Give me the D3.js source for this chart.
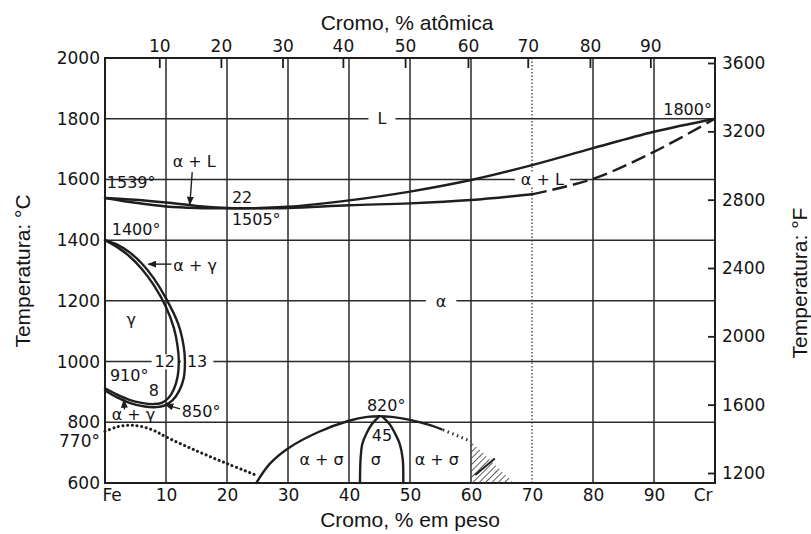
<!DOCTYPE html>
<html>
<head>
<meta charset="utf-8">
<script src="https://cdn.jsdelivr.net/npm/d3@7"></script>
<style>
  body { margin: 0; background: #fff; }
  text { font-family: "DejaVu Sans", sans-serif; fill: #141414; }
  .title { font-family: "Liberation Sans", Arial, sans-serif; font-size: 21px; }
  .tick text { font-size: 17px; }
  .note { font-size: 16px; }
</style>
</head>
<body>
<svg id="chart" width="811" height="534"></svg>
<script>
// Fe–Cr equilibrium diagram (temperature vs. chromium content)

// axis ticks
const weightTicks = [0, 10, 20, 30, 40, 50, 60, 70, 80, 90, 100];
const weightLabels = ["Fe", "10", "20", "30", "40", "50", "60", "70", "80", "90", "Cr"];
const atomicTicks = [10, 20, 30, 40, 50, 60, 70, 80, 90];
// weight-% position of each atomic-% tick
const atomicAsWeight = [8.9, 19.0, 29.1, 39.0, 49.2, 59.5, 69.3, 79.5, 89.4];
const celsiusTicks = [600, 800, 1000, 1200, 1400, 1600, 1800, 2000];
const fahrenheitTicks = [1200, 1600, 2000, 2400, 2800, 3200, 3600];
const gridWeights = [10, 20, 30, 40, 50, 60, 70, 80, 90];
const gridTemps = [800, 1000, 1200, 1400, 1600, 1800];

// phase boundaries: [wt % Cr, °C]
const liquidus = [[0,1539],[5,1533],[10,1524],[15,1513],[20,1506],[22,1505],[30,1510],[40,1531],[50,1560],[60,1598],[70,1647],[80,1703],[90,1757],[100,1800]];
const solidus = [[0,1539],[5,1523],[10,1511],[15,1506],[22,1505],[30,1506],[40,1515],[50,1521],[60,1532],[70,1551]];
const solidusUncertain = [[70,1551],[80,1602],[90,1691],[100,1800]];
const gammaInner = [[0,1400],[2,1377],[4,1347],[6,1306],[8,1252],[10,1180],[11.3,1110],[11.9,1050],[12.1,1000],[11.9,950],[11.3,910],[10.4,880],[9.3,864],[8,860],[6,864],[4,874],[2,891],[0,912]];
const gammaOuter = [[0,1400],[2,1385],[4,1360],[6,1324],[8,1274],[10,1208],[12,1124],[12.9,1050],[13.1,1000],[12.9,945],[12.2,905],[11.1,873],[9.8,856],[8.5,850],[6.5,852],[4,864],[2,882],[0,905]];
const curieLine = [[0,770],[2,785],[4,790],[6,786],[8,773],[10,752],[15,706],[20,664],[25,624]];
const sigmaDome = [[24.8,600],[27,663],[30,714],[35,768],[40,805],[43,818],[45,820],[47,818],[50,808],[53,792],[55.2,777]];
const sigmaDomeTail = [[55.4,775],[57.5,758],[60,737]];
const hatchZone = [[60,737],[63.5,668],[67,600],[60,600]];
const hatchAccent = [[60.7,626],[63.9,681]];
const sigmaLeft = [[41.8,600],[41.9,680],[42.2,730],[42.9,765],[43.8,795],[44.8,816]];
const sigmaRight = [[48.9,600],[48.8,680],[48.3,730],[47.5,765],[46.6,795],[45.6,816]];

const svg = d3.select("#chart");
const x = d3.scaleLinear().domain([0, 100]).range([105, 715]);
const y = d3.scaleLinear().domain([600, 2000]).range([483, 58]);
const yF = d3.scaleLinear().domain([1200, 3600]).range([473, 63]);
const ink = "#1e1e1e";

const curve = d3.line().x(d => x(d[0])).y(d => y(d[1])).curve(d3.curveCatmullRom.alpha(0.5));
const straight = d3.line().x(d => x(d[0])).y(d => y(d[1]));

const defs = svg.append("defs");
defs.append("marker").attr("id", "head").attr("viewBox", "0 0 10 8")
  .attr("refX", 9).attr("refY", 4).attr("markerWidth", 9).attr("markerHeight", 7)
  .attr("markerUnits", "userSpaceOnUse").attr("orient", "auto")
  .append("path").attr("d", "M0,0 L10,4 L0,8 Z").attr("fill", ink);
const pat = defs.append("pattern").attr("id", "hatch").attr("patternUnits", "userSpaceOnUse")
  .attr("width", 4.5).attr("height", 4.5).attr("patternTransform", "rotate(45)");
pat.append("line").attr("x1", 0).attr("y1", 0).attr("x2", 0).attr("y2", 4.5)
  .attr("stroke", "#3a3a3a").attr("stroke-width", 1.6);

// grid
const grid = svg.append("g").attr("stroke", "#2a2a2a").attr("stroke-width", 1.5);
grid.selectAll("line.v").data(gridWeights).join("line")
  .attr("x1", d => x(d)).attr("x2", d => x(d)).attr("y1", y(2000)).attr("y2", y(600))
  .attr("stroke-dasharray", d => d === 70 ? "1.5,2" : null)
  .attr("stroke-width", d => d === 70 ? 1.2 : 1.5);
grid.selectAll("line.h").data(gridTemps).join("line")
  .attr("x1", x(0)).attr("x2", x(100)).attr("y1", d => y(d)).attr("y2", d => y(d));

// frame
svg.append("rect").attr("x", x(0)).attr("y", y(2000))
  .attr("width", x(100) - x(0)).attr("height", y(600) - y(2000))
  .attr("fill", "none").attr("stroke", ink).attr("stroke-width", 2);

// axes
const axB = svg.append("g").attr("transform", `translate(0,${y(600)})`)
  .call(d3.axisBottom(x).tickValues(weightTicks).tickSize(0).tickPadding(6)
    .tickFormat((d, i) => weightLabels[i]));
axB.selectAll(".tick text").attr("text-anchor", (d, i) => i === 0 ? "start" : (i === weightTicks.length - 1 ? "end" : "middle"))
  .attr("dx", (d, i) => i === 0 ? -3 : (i === weightTicks.length - 1 ? -3 : 0));

const xAt = d3.scaleLinear().domain([0, 100]).range([x(0), x(100)]);
const axT = svg.append("g").attr("transform", `translate(0,${y(2000)})`)
  .call(d3.axisTop(xAt).tickValues(atomicAsWeight).tickSize(-10).tickPadding(6)
    .tickFormat((d, i) => atomicTicks[i]));

const axL = svg.append("g").attr("transform", `translate(${x(0)},0)`)
  .call(d3.axisLeft(y).tickValues(celsiusTicks).tickSize(0).tickPadding(5).tickFormat(d3.format("d")));

const axR = svg.append("g").attr("transform", `translate(${x(100)},0)`)
  .call(d3.axisRight(yF).tickValues(fahrenheitTicks).tickSize(-7).tickPadding(7).tickFormat(d3.format("d")));

[axB, axT, axL, axR].forEach(a => {
  a.select(".domain").remove();
  a.selectAll(".tick line").attr("stroke", ink).attr("stroke-width", 1.8);
  a.selectAll(".tick text").attr("fill", "#141414");
});

// labels that sit on grid lines get a white patch behind them
const notes = svg.append("g").attr("class", "note");
function note(txt, at, opt = {}) {
  const t = notes.append("text").text(txt)
    .attr("x", x(at[0])).attr("y", y(at[1]))
    .attr("text-anchor", opt.anchor || "start")
    .attr("dy", opt.mid ? "0.36em" : null);
  if (opt.size) t.style("font-size", opt.size + "px");
  if (opt.pad) {
    const b = t.node().getBBox();
    notes.insert("rect", () => t.node())
      .attr("x", b.x - opt.pad).attr("y", b.y + 2)
      .attr("width", b.width + 2 * opt.pad).attr("height", b.height - 4)
      .attr("fill", "#fff");
  }
  return t;
}

note("L", [45.4, 1800], { anchor: "middle", mid: true, pad: 9 });
note("α", [55.1, 1200], { anchor: "middle", mid: true, pad: 10 });
note("α + L", [71.7, 1582], { anchor: "middle", pad: 6 });
note("12", [9.8, 1000], { anchor: "middle", mid: true, pad: 3 });
note("13", [15.1, 1000], { anchor: "middle", mid: true, pad: 6 });

// hatched region beyond the sigma dome
svg.append("path").datum(hatchZone).attr("d", d => straight(d) + "Z")
  .attr("fill", "url(#hatch)").attr("stroke", "none");
svg.append("path").datum(hatchAccent).attr("d", straight)
  .attr("stroke", ink).attr("stroke-width", 2).attr("fill", "none");
svg.append("path").datum(sigmaDomeTail).attr("d", straight)
  .attr("stroke", "#333").attr("stroke-width", 3).attr("stroke-dasharray", "1.5,3.5").attr("fill", "none");

// phase boundaries
const solid = svg.append("g").attr("fill", "none").attr("stroke", ink).attr("stroke-width", 2.4)
  .attr("stroke-linecap", "round");
[liquidus, solidus, gammaInner, gammaOuter, sigmaDome, sigmaLeft, sigmaRight].forEach(s =>
  solid.append("path").datum(s).attr("d", curve));
solid.append("path").datum(solidusUncertain).attr("d", curve)
  .attr("stroke-dasharray", "15,6").attr("stroke-linecap", "butt");
solid.append("path").datum(curieLine).attr("d", curve)
  .attr("stroke-width", 3).attr("stroke-dasharray", "0.1,4.6");

// remaining annotations
note("α + L", [11.1, 1641]);
note("1539°", [0.3, 1572]);
note("22", [20.8, 1522]);
note("1505°", [20.8, 1450]);
note("1400°", [1.1, 1417]);
note("α + γ", [11.2, 1298]);
note("γ", [4.3, 1120], { anchor: "middle" });
note("910°", [0.8, 936]);
note("8", [8.0, 887], { anchor: "middle" });
note("850°", [12.6, 817]);
note("α + γ", [1.1, 807]);
note("α + σ", [35.5, 659], { anchor: "middle" });
note("σ", [44.4, 659], { anchor: "middle" });
note("α + σ", [54.4, 659], { anchor: "middle" });
note("820°", [46.1, 837], { anchor: "middle" });
note("45", [45.4, 738], { anchor: "middle" });
note("1800°", [99.5, 1812], { anchor: "end" });

// 770° sits just outside the left axis
svg.append("text").attr("class", "tick").style("font-size", "17px")
  .attr("x", x(0) - 5).attr("y", y(770)).attr("dy", "0.9em").attr("text-anchor", "end").text("770°");

// pointer arrows
const arrows = [
  [[14.3, 1624], [13.9, 1517]],
  [[10.9, 1321], [7.1, 1321]],
  [[12.3, 844], [9.9, 858]],
  [[3.2, 842], [3.1, 874]]
];
svg.append("g").selectAll("path").data(arrows).join("path")
  .attr("d", straight).attr("stroke", ink).attr("stroke-width", 1.4)
  .attr("fill", "none").attr("marker-end", "url(#head)");

// axis titles
svg.append("text").attr("class", "title").attr("x", 407).attr("y", 30)
  .attr("text-anchor", "middle").text("Cromo, % atômica");
svg.append("text").attr("class", "title").attr("x", 410).attr("y", 527)
  .attr("text-anchor", "middle").text("Cromo, % em peso");
svg.append("text").attr("class", "title").attr("transform", "translate(30,271) rotate(-90)")
  .attr("text-anchor", "middle").text("Temperatura: °C");
svg.append("text").attr("class", "title").attr("transform", "translate(807,283) rotate(-90)")
  .attr("text-anchor", "middle").text("Temperatura: °F");
</script>
</body>
</html>
